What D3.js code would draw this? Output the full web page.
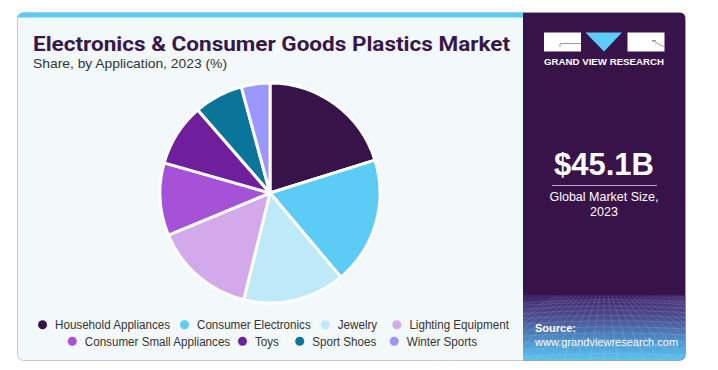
<!DOCTYPE html>
<html>
<head>
<meta charset="utf-8">
<script src="https://cdn.jsdelivr.net/npm/d3@7"></script>
<style>
  body { margin: 0; background: #fff; }
  svg { display: block; }
</style>
</head>
<body>
<svg width="718" height="370"></svg>
<script>
// chart data
var categories = ["Household Appliances", "Consumer Electronics", "Jewelry", "Lighting Equipment",
                  "Consumer Small Appliances", "Toys", "Sport Shoes", "Winter Sports"];
var shares = [20.2, 18.7, 15.0, 14.9, 10.7, 9.2, 7.2, 4.2];
var colors = ["#381349", "#5ccbf5", "#bde9f9", "#d4a9ec", "#a552d8", "#6f1f9b", "#0b7499", "#9b97ff"];
var legendRows = [[0, 1, 2, 3], [4, 5, 6, 7]];

var title = "Electronics & Consumer Goods Plastics Market";
var subtitle = "Share, by Application, 2023 (%)";
var marketSize = "$45.1B";
var marketLabel = ["Global Market Size,", "2023"];

function main() {
    var svg = d3.select("svg");

    var card = { x: 17.5, y: 12.5, w: 668, h: 348, r: 6 };
    var panelX = 523;

    var defs = svg.append("defs");
    defs.append("clipPath").attr("id", "cardClip")
        .append("rect")
        .attr("x", card.x).attr("y", card.y)
        .attr("width", card.w).attr("height", card.h)
        .attr("rx", card.r);

    var grad = defs.append("linearGradient").attr("id", "panelGrad")
        .attr("x1", 0).attr("y1", 0).attr("x2", 0).attr("y2", 1);
    grad.append("stop").attr("offset", "0").attr("stop-color", "#3d2266");
    grad.append("stop").attr("offset", "0.35").attr("stop-color", "#4a4f92");
    grad.append("stop").attr("offset", "0.75").attr("stop-color", "#4f9bd4");
    grad.append("stop").attr("offset", "1").attr("stop-color", "#5cc4ef");

    // card background
    svg.append("rect")
       .attr("x", card.x).attr("y", card.y)
       .attr("width", card.w).attr("height", card.h)
       .attr("rx", card.r)
       .attr("fill", "#f3f8fb")
       .attr("stroke", "#c9c9c9");

    var clipped = svg.append("g").attr("clip-path", "url(#cardClip)");

    // top accent bar
    clipped.append("rect")
       .attr("x", card.x).attr("y", card.y)
       .attr("width", panelX - card.x).attr("height", 5)
       .attr("fill", "#5ccbf5");

    // right panel
    clipped.append("rect")
       .attr("x", panelX).attr("y", card.y)
       .attr("width", card.x + card.w - panelX).attr("height", card.h)
       .attr("fill", "#381349");
    clipped.append("rect")
       .attr("x", panelX).attr("y", 295)
       .attr("width", card.x + card.w - panelX).attr("height", card.y + card.h - 295)
       .attr("fill", "url(#panelGrad)");

    // faint perspective mesh in the panel bottom
    var mesh = clipped.append("g")
        .attr("stroke", "#ffffff").attr("stroke-opacity", 0.22)
        .attr("stroke-width", 0.6).attr("fill", "none");
    d3.range(0, 14).forEach(function(i) {
        var y = 300 + Math.pow(i, 1.35) * 2.4;
        mesh.append("path")
            .attr("d", "M" + panelX + "," + (y + 3) + " Q604," + (y - 3) + " 686," + (y + 2));
    });
    d3.range(-12, 22).forEach(function(i) {
        var xb = 604 + i * 14;
        mesh.append("line")
            .attr("x1", 604 + i * 4).attr("y1", 296)
            .attr("x2", xb).attr("y2", 362);
    });

    // title texts
    svg.append("text")
       .attr("x", 33).attr("y", 51)
       .attr("font-family", "Roboto, 'Liberation Sans', sans-serif")
       .attr("font-weight", 700)
       .attr("font-size", "20px")
       .attr("fill", "#38184c")
       .attr("textLength", 477)
       .attr("lengthAdjust", "spacingAndGlyphs")
       .text(title);

    svg.append("text")
       .attr("x", 33).attr("y", 68)
       .attr("font-family", "'Liberation Sans', Arial, sans-serif")
       .attr("font-size", "13px")
       .attr("fill", "#333")
       .attr("textLength", 194)
       .attr("lengthAdjust", "spacingAndGlyphs")
       .text(subtitle);

    // logo
    var logo = svg.append("g");
    logo.append("rect").attr("x", 544).attr("y", 32.5).attr("width", 37).attr("height", 19).attr("fill", "#fff");
    logo.append("path").attr("d", "M560,43.5 H581 M560,43.5 V47").attr("stroke", "#8a7a96").attr("stroke-width", 0.8).attr("fill", "none");
    logo.append("path").attr("d", "M585.5,32.5 H622 L604,51.5 Z").attr("fill", "#5ccbf5");
    logo.append("rect").attr("x", 627.5).attr("y", 32.5).attr("width", 37).attr("height", 19).attr("fill", "#fff");
    logo.append("path").attr("d", "M652,40.5 L664.5,47 M652,40.5 H656").attr("stroke", "#8a7a96").attr("stroke-width", 0.8).attr("fill", "none");
    logo.append("text")
        .attr("x", 604).attr("y", 65)
        .attr("text-anchor", "middle")
        .attr("font-family", "'Liberation Sans', Arial, sans-serif")
        .attr("font-weight", 700)
        .attr("font-size", "9px")
        .attr("fill", "#fff")
        .attr("textLength", 120)
        .attr("lengthAdjust", "spacingAndGlyphs")
        .text("GRAND VIEW RESEARCH");

    // market size
    svg.append("text")
       .attr("x", 604).attr("y", 175)
       .attr("text-anchor", "middle")
       .attr("font-family", "'Liberation Sans', Arial, sans-serif")
       .attr("font-weight", 700)
       .attr("font-size", "31px")
       .attr("fill", "#fff")
       .text(marketSize);
    svg.append("line")
       .attr("x1", 552).attr("x2", 657)
       .attr("y1", 185.5).attr("y2", 185.5)
       .attr("stroke", "#b9a9c6").attr("stroke-width", 1);
    svg.selectAll(".mlabel")
       .data(marketLabel)
       .enter().append("text")
       .attr("class", "mlabel")
       .attr("x", 604)
       .attr("y", function(d, i) { return 201 + i * 15; })
       .attr("text-anchor", "middle")
       .attr("font-family", "'Liberation Sans', Arial, sans-serif")
       .attr("font-size", "12.5px")
       .attr("fill", "#fff")
       .text(function(d) { return d; });

    // source
    svg.append("text")
       .attr("x", 535).attr("y", 332)
       .attr("font-family", "'Liberation Sans', Arial, sans-serif")
       .attr("font-weight", 700)
       .attr("font-size", "11px")
       .attr("fill", "#fff")
       .text("Source:");
    svg.append("text")
       .attr("x", 535).attr("y", 346)
       .attr("font-family", "'Liberation Sans', Arial, sans-serif")
       .attr("font-size", "11px")
       .attr("fill", "#fff")
       .text("www.grandviewresearch.com");

    // pie
    var cx = 270, cy = 193, radius = 110;
    var pie = d3.pie().sort(null).value(function(d) { return d; });
    var arc = d3.arc().innerRadius(0).outerRadius(radius);

    var g = svg.append("g").attr("transform", "translate(" + cx + "," + cy + ")");
    g.selectAll(".slice")
     .data(pie(shares))
     .enter().append("path")
     .attr("class", "slice")
     .attr("d", arc)
     .attr("fill", function(d, i) { return colors[i]; })
     .attr("stroke", "#ffffff")
     .attr("stroke-width", 3)
     .attr("stroke-linejoin", "round");

    // legend, centred rows
    var legendCx = 270, gap = 18, dotR = 4.5, dotGap = 8;
    legendRows.forEach(function(row, r) {
        var lg = svg.append("g");
        var y = 329 + r * 16.5;
        var x = 0;
        row.forEach(function(idx) {
            lg.append("circle")
              .attr("cx", x + dotR).attr("cy", y - 4.2)
              .attr("r", dotR)
              .attr("fill", colors[idx]);
            var t = lg.append("text")
              .attr("x", x + dotR * 2 + dotGap).attr("y", y)
              .attr("font-family", "'Liberation Sans', Arial, sans-serif")
              .attr("font-size", "12.5px")
              .attr("fill", "#333")
              .text(categories[idx]);
            t.attr("textLength", t.node().getComputedTextLength() * 0.93)
             .attr("lengthAdjust", "spacingAndGlyphs");
            x += dotR * 2 + dotGap + t.node().getComputedTextLength() * 0.93 + gap;
        });
        var w = x - gap;
        lg.attr("transform", "translate(" + (legendCx - w / 2) + ",0)");
    });
}
main();
</script>
</body>
</html>
